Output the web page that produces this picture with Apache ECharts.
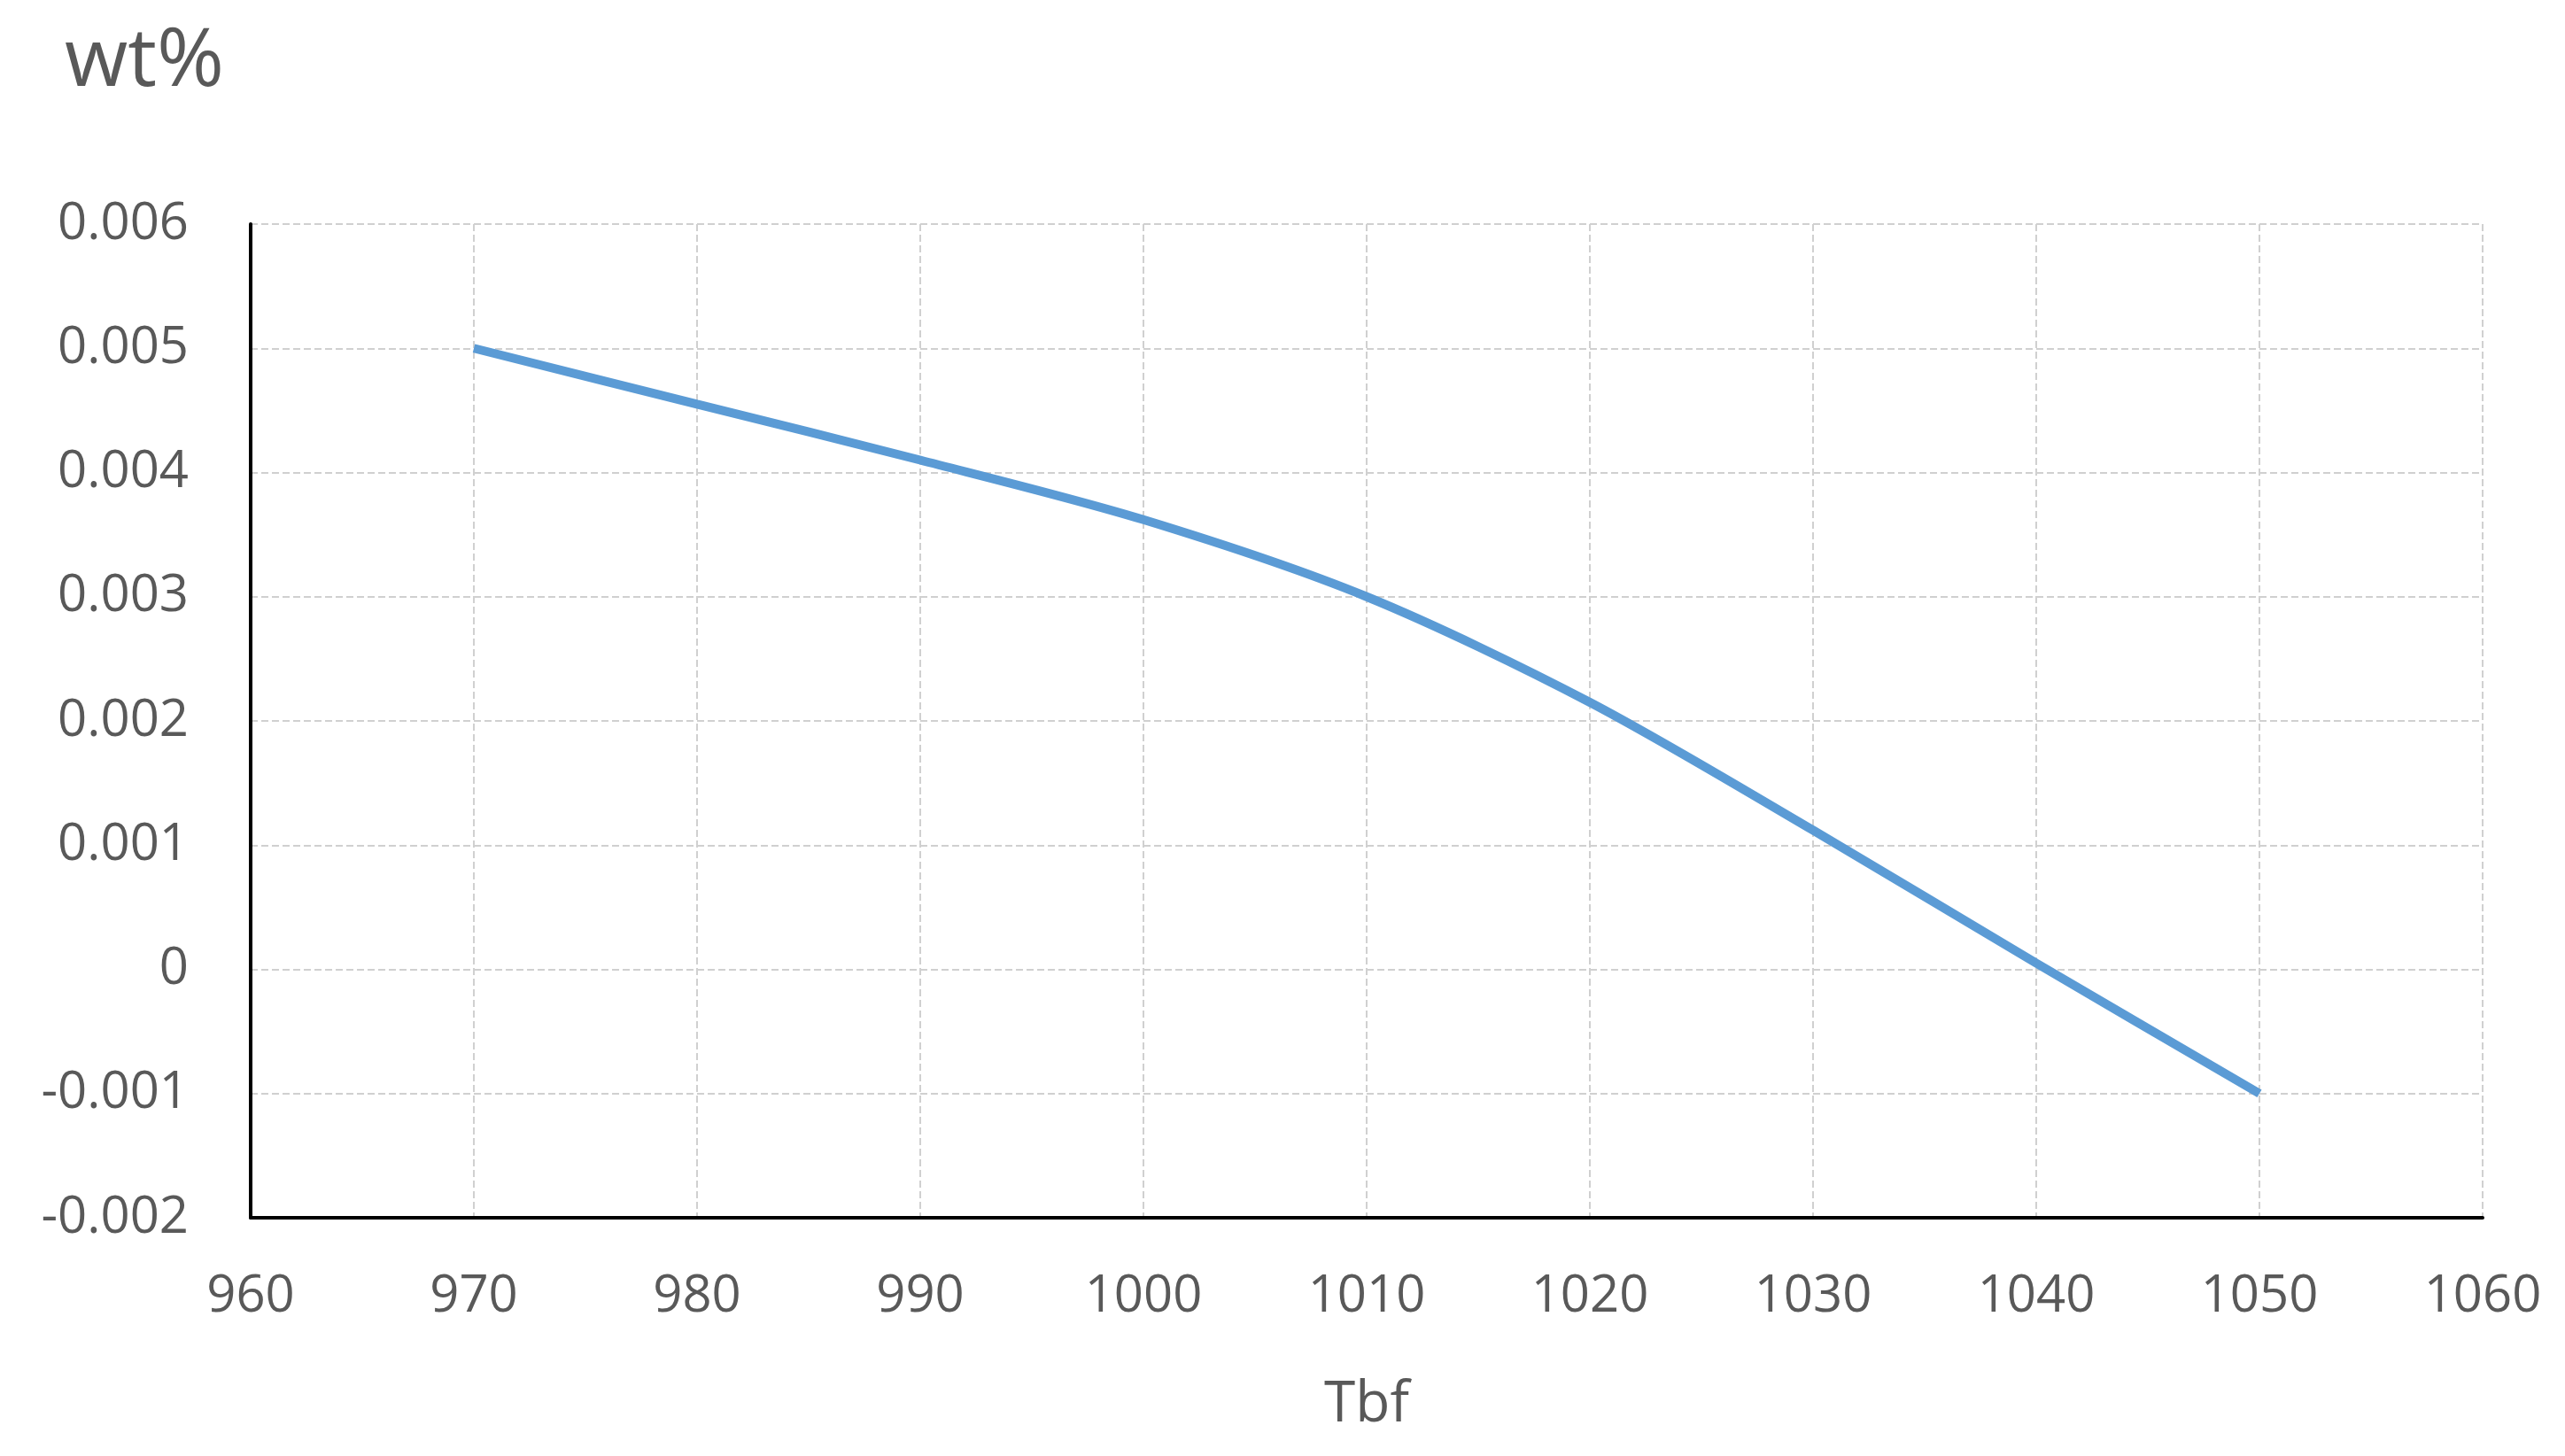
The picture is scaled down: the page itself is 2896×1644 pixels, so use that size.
<!DOCTYPE html>
<html>
<head>
<meta charset="utf-8">
<script src="https://cdn.jsdelivr.net/npm/echarts@6/dist/echarts.min.js"></script>
<style>
  html, body { margin: 0; padding: 0; background: #fff; }
  #chart { width: 2896px; height: 1644px; }
</style>
</head>
<body>
<div id="chart"></div>
<script>
// 数据
var tbf = [970, 980, 990, 1000, 1010, 1020, 1030, 1040, 1050];
var wt = [0.005, 0.00455, 0.0041, 0.00362, 0.00300, 0.00215, 0.00112, 0.00005, -0.001];

(function() {
    var myChart = echarts.init(document.getElementById("chart"));
    var pts = tbf.map(function(t, i) { return [t, wt[i]]; });
    var option = {
        backgroundColor: "#fff",
        animation: false,
        title: {
            text: "wt%",
            left: 68,
            top: 20,
            textStyle: { fontFamily: "Open Sans", fontSize: 92, fontWeight: "normal", color: "#595959" }
        },
        grid: { left: 283, right: 93, top: 253, bottom: 269 },
        xAxis: {
            type: "value",
            min: 960, max: 1060, interval: 10,
            name: "Tbf",
            nameLocation: "middle",
            nameGap: 180,
            nameTextStyle: { fontFamily: "Open Sans", fontSize: 64, color: "#595959" },
            axisLine: { onZero: false, lineStyle: { color: "#000", width: 4 } },
            axisTick: { show: false },
            axisLabel: {
                fontFamily: "Open Sans", fontSize: 58, color: "#595959", margin: 60,
                formatter: function(v) { return String(v); }
            },
            splitLine: { show: true, lineStyle: { color: "#d0d0d0", width: 2, type: "dashed" } }
        },
        yAxis: {
            type: "value",
            min: -0.002, max: 0.006, interval: 0.001,
            axisLine: { show: true, lineStyle: { color: "#000", width: 4 } },
            axisTick: { show: false },
            axisLabel: {
                fontFamily: "Open Sans", fontSize: 58, color: "#595959", margin: 70,
                formatter: function(v) { return String(Math.round(v * 1000) / 1000); }
            },
            splitLine: { lineStyle: { color: "#d0d0d0", width: 2, type: "dashed" } }
        },
        series: [{
            type: "line",
            data: pts,
            smooth: 0.3,
            symbol: "none",
            lineStyle: { color: "#5b9bd5", width: 10 }
        }]
    };
    myChart.setOption(option);
})();
</script>
</body>
</html>
